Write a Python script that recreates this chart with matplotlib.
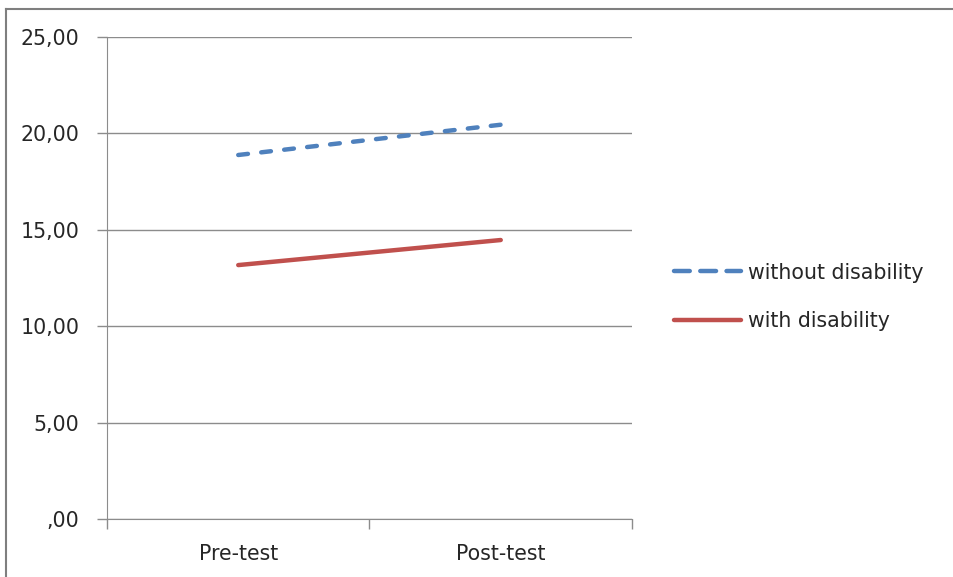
import matplotlib
matplotlib.use("Agg")
import matplotlib.pyplot as plt
from matplotlib.lines import Line2D

plt.rcParams['font.family'] = ['DejaVu Sans']

categories = ["Pre-test", "Post-test"]
without_disability = [18.88, 20.45]
with_disability = [13.17, 14.47]
y_ticks = [0, 5, 10, 15, 20, 25]
y_tick_labels = [",00", "5,00", "10,00", "15,00", "20,00", "25,00"]

blue = "#4F81BD"
red = "#C0504D"
grid_gray = "#8C8C8C"
text_color = "#262626"
fs = 14.8
dash = (0, (2.2, 3.0))
legend_dash = (0, (3.55, 2.36))

fig = plt.figure(figsize=(9.54, 5.77), dpi=100)
ax = fig.add_axes([107 / 954, 1 - 519 / 577, (632 - 107) / 954, (519 - 37) / 577])

x = list(range(len(categories)))
ax.plot(x, without_disability, color=blue, lw=3.2, linestyle=dash,
        dash_capstyle="round", label="without disability", zorder=3)
ax.plot(x, with_disability, color=red, lw=3.2, solid_capstyle="round",
        label="with disability", zorder=3)

ax.set_xlim(-0.5, 1.5)
ax.set_ylim(0, 25)
ax.set_yticks(y_ticks)
ax.set_yticklabels(y_tick_labels)
ax.set_xticks(x)
ax.set_xticklabels(categories)
ax.tick_params(axis="x", length=0, pad=18, labelsize=fs, colors=text_color)
ax.tick_params(axis="y", length=7, width=1, color=grid_gray, pad=13,
               labelsize=fs, labelcolor=text_color)

# category boundary ticks on the horizontal axis
ax.set_xticks([-0.5, 0.5, 1.5], minor=True)
ax.tick_params(axis="x", which="minor", length=7, width=1, color=grid_gray)

for v in y_ticks:
    ax.axhline(v, color=grid_gray, lw=1, zorder=1)

for side in ["top", "right"]:
    ax.spines[side].set_visible(False)
ax.spines["left"].set_color(grid_gray)
ax.spines["bottom"].set_color(grid_gray)

handles = [
    Line2D([], [], color=blue, lw=3.2, linestyle=legend_dash, dash_capstyle="round"),
    Line2D([], [], color=red, lw=3.2, solid_capstyle="round"),
]
fig.legend(handles, ["without disability", "with disability"],
           loc="center left", bbox_to_anchor=(655 / 954, 1 - 297 / 577),
           frameon=False, fontsize=fs, handlelength=3.3, handletextpad=0.3,
           labelspacing=1.4, labelcolor=text_color)

# outer chart frame
fig.add_artist(Line2D([6 / 954, 6 / 954], [0, 1 - 9 / 577], color="#7F7F7F",
                      lw=1.5, transform=fig.transFigure))
fig.add_artist(Line2D([6 / 954, 1], [1 - 9 / 577, 1 - 9 / 577], color="#7F7F7F",
                      lw=1.5, transform=fig.transFigure))

fig.savefig("out.png", dpi=100, facecolor="white")
